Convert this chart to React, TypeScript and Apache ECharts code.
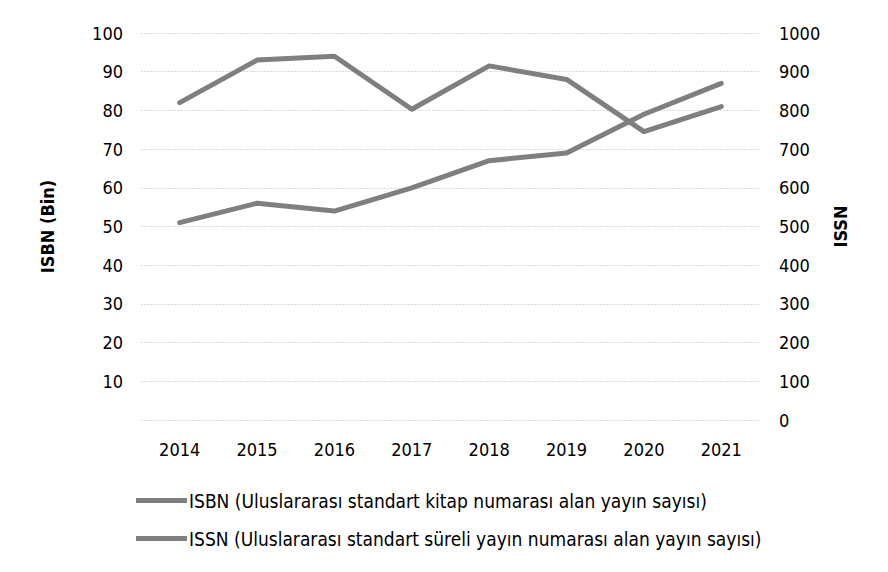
import React, { useEffect, useRef } from "react";
import * as echarts from "echarts";

const years = ["2014", "2015", "2016", "2017", "2018", "2019", "2020", "2021"];
const isbnValues = [51, 56, 54, 60, 67, 69, 79, 87];
const issnValues = [820, 930, 940, 803, 915, 880, 745, 810];
const isbnName = "ISBN (Uluslararası standart kitap numarası alan yayın sayısı)";
const issnName = "ISSN (Uluslararası standart süreli yayın numarası alan yayın sayısı)";
const leftAxisName = "ISBN (Bin)";
const rightAxisName = "ISSN";

const FONT = "DejaVu Sans Condensed";
const LINE = "#7f7f7f";
const FS = 18;
const LFS = 19;

export default function App() {
  const ref = useRef<HTMLDivElement>(null);
  useEffect(() => {
    if (!ref.current) return;
    const chart = echarts.init(ref.current, null, { renderer: "svg" });
    chart.setOption({
      animation: false,
      backgroundColor: "#ffffff",
      textStyle: { fontFamily: FONT },
      graphic: [
        {
          type: "rect",
          shape: { x: 5, y: 2, width: 878, height: 565 },
          style: { fill: "none", stroke: "#d0d0d0", lineWidth: 1, lineDash: [2, 2] },
          silent: true,
        },
      ],
      grid: { left: 141, right: 128, top: 33, bottom: 152 },
      legend: {
        left: 131,
        top: 486,
        orient: "vertical",
        itemWidth: 51,
        itemHeight: 5,
        itemGap: 19,
        icon: "rect",
        textStyle: { fontFamily: FONT, fontSize: LFS, color: "#000", padding: [0, 0, 0, -3] },
        data: [isbnName, issnName],
      },
      xAxis: {
        type: "category",
        data: years,
        boundaryGap: true,
        axisLine: { show: false },
        axisTick: { show: false },
        axisLabel: { fontFamily: FONT, fontSize: FS, color: "#000", margin: 20 },
      },
      yAxis: [
        {
          type: "value",
          min: 0,
          max: 100,
          interval: 10,
          name: leftAxisName,
          nameLocation: "middle",
          nameGap: 85,
          nameRotate: 90,
          nameTextStyle: { fontFamily: FONT, fontSize: FS, fontWeight: "bold", color: "#000" },
          axisLine: { show: false },
          axisTick: { show: false },
          axisLabel: {
            fontFamily: FONT,
            fontSize: FS,
            color: "#000",
            margin: 18,
            formatter: (v: number) => (v === 0 ? "" : String(v)),
          },
          splitLine: { show: true, lineStyle: { color: "#dadada", width: 1, type: [2, 1] } },
        },
        {
          type: "value",
          min: 0,
          max: 1000,
          interval: 100,
          position: "right",
          name: rightAxisName,
          nameLocation: "middle",
          nameGap: 71,
          nameRotate: 90,
          nameTextStyle: { fontFamily: FONT, fontSize: FS, fontWeight: "bold", color: "#000" },
          axisLine: { show: false },
          axisTick: { show: false },
          axisLabel: {
            fontFamily: FONT,
            fontSize: FS,
            color: "#000",
            margin: 19,
            formatter: (v: number) => String(v),
          },
          splitLine: { show: false },
        },
      ],
      series: [
        {
          name: isbnName,
          type: "line",
          yAxisIndex: 0,
          data: isbnValues,
          symbol: "none",
          lineStyle: { color: LINE, width: 5, cap: "round", join: "round" },
          itemStyle: { color: LINE },
        },
        {
          name: issnName,
          type: "line",
          yAxisIndex: 1,
          data: issnValues,
          symbol: "none",
          lineStyle: { color: LINE, width: 5, cap: "round", join: "round" },
          itemStyle: { color: LINE },
        },
      ],
    });
    return () => chart.dispose();
  }, []);
  return <div ref={ref} style={{ width: 888, height: 572, margin: -8 }} />;
}
